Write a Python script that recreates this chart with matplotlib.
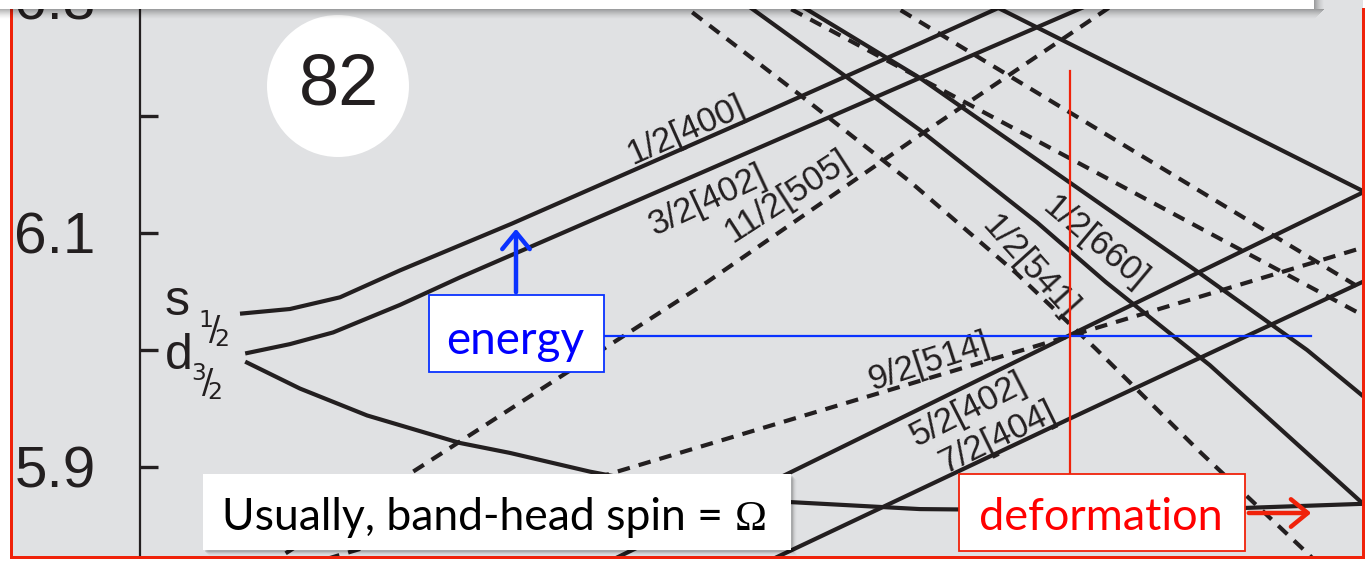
import matplotlib
matplotlib.use("Agg")
import matplotlib.pyplot as plt
from matplotlib.patches import Rectangle, Ellipse, FancyArrowPatch

W, H, DPI = 1366, 564, 100
INK = "#231f20"
PANEL = "#e0e1e3"
RED = "#f0220a"
BLUE = "#0a32ff"

plt.rcParams["mathtext.fontset"] = "custom"
plt.rcParams["mathtext.rm"] = "Liberation Sans"

# ---- single-particle levels: energy vs deformation (epsilon) ----
# positive-parity (solid) orbitals
eps_400 = [0.0, 0.0125, 0.025, 0.04, 0.068, 0.126, 0.17, 0.205]
E_400 = [6.031, 6.035, 6.045, 6.068, 6.108, 6.195, 6.262, 6.316]

eps_402_3 = [0.0013, 0.0125, 0.0233, 0.04, 0.055, 0.17, 0.2265]
E_402_3 = [5.997, 6.005, 6.015, 6.0385, 6.062, 6.2325, 6.316]

eps_411 = [0.0013, 0.015, 0.0318, 0.055, 0.0675, 0.0875, 0.115, 0.1375, 0.17, 0.2025, 0.2515, 0.285]
E_411 = [5.990, 5.967, 5.944, 5.9205, 5.912, 5.896, 5.878, 5.870, 5.864, 5.863, 5.865, 5.869]

eps_402_5 = [0.085, 0.2065, 0.29]
E_402_5 = [5.807, 6.011, 6.150]

eps_404 = [0.125, 0.2073, 0.29]
E_404 = [5.808, 5.941, 6.073]

eps_660 = [0.1178, 0.1283, 0.17, 0.1993, 0.2165, 0.2425, 0.281, 0.29]
E_660 = [6.316, 6.291, 6.188, 6.109, 6.058, 5.987, 5.868, 5.841]

eps_651 = [0.1293, 0.1418, 0.17, 0.2398, 0.2668, 0.281, 0.29]
E_651 = [6.316, 6.291, 6.2325, 6.066, 6.0, 5.960, 5.934]

eps_642 = [0.1758, 0.29]
E_642 = [6.316, 6.120]

# negative-parity (dashed) orbitals
eps_505 = [0.0063, 0.0483, 0.1168, 0.1693, 0.2275]
E_505 = [5.815, 5.907, 6.058, 6.182, 6.316]

eps_514 = [0.015, 0.0943, 0.2075, 0.29]
E_514 = [5.8145, 5.896, 6.012, 6.097]

eps_541 = [0.1028, 0.1133, 0.14, 0.1675, 0.194, 0.214, 0.24, 0.2673, 0.2725]
E_541 = [6.316, 6.288, 6.218, 6.144, 6.066, 6.001, 5.913, 5.825, 5.807]

eps_neg_a = [0.1528, 0.29]
E_neg_a = [6.316, 6.0325]

eps_neg_b = [0.1243, 0.29]
E_neg_b = [6.316, 6.0128]

solid_levels = [(eps_400, E_400), (eps_402_3, E_402_3), (eps_411, E_411),
                (eps_402_5, E_402_5), (eps_404, E_404), (eps_660, E_660),
                (eps_651, E_651), (eps_642, E_642)]
dashed_levels = [(eps_505, E_505), (eps_514, E_514), (eps_541, E_541),
                 (eps_neg_a, E_neg_a), (eps_neg_b, E_neg_b)]

# Nilsson labels
orbital_labels = ["1/2[400]", "3/2[402]", "11/2[505]", "9/2[514]",
                  "5/2[402]", "7/2[404]", "1/2[541]", "1/2[660]"]
label_eps = [0.1115, 0.117, 0.1368, 0.1723, 0.182, 0.1893, 0.1975, 0.2138]
label_E = [6.188, 6.128, 6.131, 5.990, 5.949, 5.925, 6.071, 6.092]
label_rot = [24, 25, 33, 18, 27, 26, -48, -40]

# spherical parent states
shell_letters = ["s", "d"]
shell_j = ["1", "3"]
shell_E = [6.030, 5.984]
shell_sub_dx = [33, 26]

y_ticks = [5.9, 6.0, 6.1, 6.2, 6.3]
y_ticklabels = ["5.9", "", "6.1", "", "6.3"]

# the highlighted crossing (9/2[514] with 5/2[402])
cross_eps = 0.2075
cross_E = 6.012

shell_gap = "82"


def fx(px):
    return px / W


def fy(py):
    return 1 - py / H


def frect(x0, y0, x1, y1, **kw):
    return Rectangle((fx(x0), fy(y1)), (x1 - x0) / W, (y1 - y0) / H,
                     transform=fig.transFigure, **kw)


fig = plt.figure(figsize=(W / DPI, H / DPI), dpi=DPI, facecolor="white")
fig.patches.append(frect(11, 0, 1363, 557, facecolor=PANEL, edgecolor="none", zorder=-5))

ax = fig.add_axes([fx(140), fy(556), (1363 - 140) / W, (556 + 20) / H])
ax.patch.set_visible(False)
ax.set_xlim(-0.025, 0.2808)
ax.set_ylim(5.8239, 6.3162)
for side in ("top", "right", "bottom"):
    ax.spines[side].set_visible(False)
ax.spines["left"].set_color(INK)
ax.spines["left"].set_linewidth(1.6)
ax.set_xticks([])
ax.set_yticks(y_ticks)
ax.set_yticklabels(y_ticklabels, family="Liberation Sans", fontsize=42, color=INK)
ax.tick_params(axis="y", direction="in", length=13, width=2.4, color=INK, pad=32)

for e, E in solid_levels:
    ax.plot(e, E, color=INK, lw=3.0, solid_capstyle="butt", zorder=2)
for e, E in dashed_levels:
    ax.plot(e, E, color=INK, lw=3.0, linestyle=(0, (3.0, 2.2)),
            dash_capstyle="butt", zorder=2)

for s, e, E, r in zip(orbital_labels, label_eps, label_E, label_rot):
    ax.text(e, E, s, rotation=r, rotation_mode="anchor", ha="center", va="center",
            fontsize=25, family="Liberation Sans", color=INK, zorder=3)

# spherical-shell labels: letter followed by a stacked j fraction subscript
for letter, j, E, dx in zip(shell_letters, shell_j, shell_E, shell_sub_dx):
    ax.text(-0.0188, E, letter, fontsize=36, family="Liberation Sans", color=INK,
            ha="left", va="baseline", zorder=3)
    ax.annotate(r"$\mathregular{^{%s}\!/\!_{2}}$" % j, (-0.0188, E), xytext=(dx, -26),
                textcoords="offset pixels", fontsize=24, color=INK,
                ha="left", va="baseline", zorder=3)

# guide lines to the crossing
ax.plot([0.091, 0.2678], [cross_E, cross_E], color=BLUE, lw=1.6, zorder=5)
ax.plot([cross_eps, cross_eps], [6.2385, 5.894], color=RED, lw=1.6, zorder=5)

# shell-gap marker
fig.patches.append(Ellipse((fx(338), fy(86)), 142 / W, 142 / H, transform=fig.transFigure,
                           facecolor="white", edgecolor="none", zorder=3))
fig.text(fx(339), fy(86), shell_gap, ha="center", va="center", fontsize=52,
         family="Liberation Sans", color=INK, zorder=4)

# callout boxes
fig.patches.append(frect(429, 295, 604, 372, facecolor="white", edgecolor=BLUE, lw=1.3, zorder=4))
fig.text(fx(515), fy(354), "energy", ha="center", va="baseline", fontsize=33,
         family="Lato", color="#0000ff", zorder=5)

for i, a in enumerate([0.10, 0.07, 0.045, 0.025, 0.012]):
    fig.patches.append(frect(203 + 2 + i, 474 + 2 + i, 791 + 2 + i, 550 + 2 + i,
                             facecolor="black", edgecolor="none", alpha=a, zorder=3.5))
fig.patches.append(frect(203, 474, 791, 550, facecolor="white", edgecolor="none", zorder=4))
t_usually = fig.text(fx(222), fy(530), "Usually, band-head spin = ", ha="left", va="baseline",
                     fontsize=32, family="Lato", color="black", zorder=5)

fig.patches.append(frect(959, 474, 1245, 551, facecolor="white", edgecolor=RED, lw=1.3, zorder=4))
fig.text(fx(1101), fy(530), "deformation", ha="center", va="baseline", fontsize=32.5,
         family="Lato", color="#ff0000", zorder=5)

fig.add_artist(FancyArrowPatch((fx(516), fy(295)), (fx(516), fy(226)), transform=fig.transFigure,
                               arrowstyle="->,head_length=0.55,head_width=0.45", mutation_scale=22,
                               color=BLUE, lw=3.2, zorder=5))
fig.add_artist(FancyArrowPatch((fx(1246), fy(513)), (fx(1314), fy(513)), transform=fig.transFigure,
                               arrowstyle="->,head_length=0.55,head_width=0.45", mutation_scale=22,
                               color=RED, lw=3.2, zorder=5))

# frame
fig.patches.append(frect(10, 8, 13, 559, facecolor=RED, edgecolor="none", zorder=8))
fig.patches.append(frect(10, 556, 1365, 559, facecolor=RED, edgecolor="none", zorder=8))
fig.patches.append(frect(1362, 8, 1365, 559, facecolor=RED, edgecolor="none", zorder=8))

# top banner with soft shadow
for i in range(10):
    a = 0.30 * (1 - i / 10) ** 1.5
    fig.patches.append(frect(0, 9 + i, 1314 + 10 - i, 10 + i, facecolor="black",
                             edgecolor="none", alpha=a, zorder=9))
    fig.patches.append(frect(1314 + i, 0, 1315 + i, 9, facecolor="black",
                             edgecolor="none", alpha=a, zorder=9))
fig.patches.append(frect(0, 0, 1314, 9, facecolor="white", edgecolor="none", zorder=10))

# serif Omega right after the sans text
fig.canvas.draw()
bb = t_usually.get_window_extent()
fig.text(bb.x1 / W, fy(530), "\u03a9", ha="left", va="baseline", fontsize=31,
         family="Liberation Serif", color="black", zorder=5)

fig.savefig("out.png", dpi=DPI, facecolor="white")
